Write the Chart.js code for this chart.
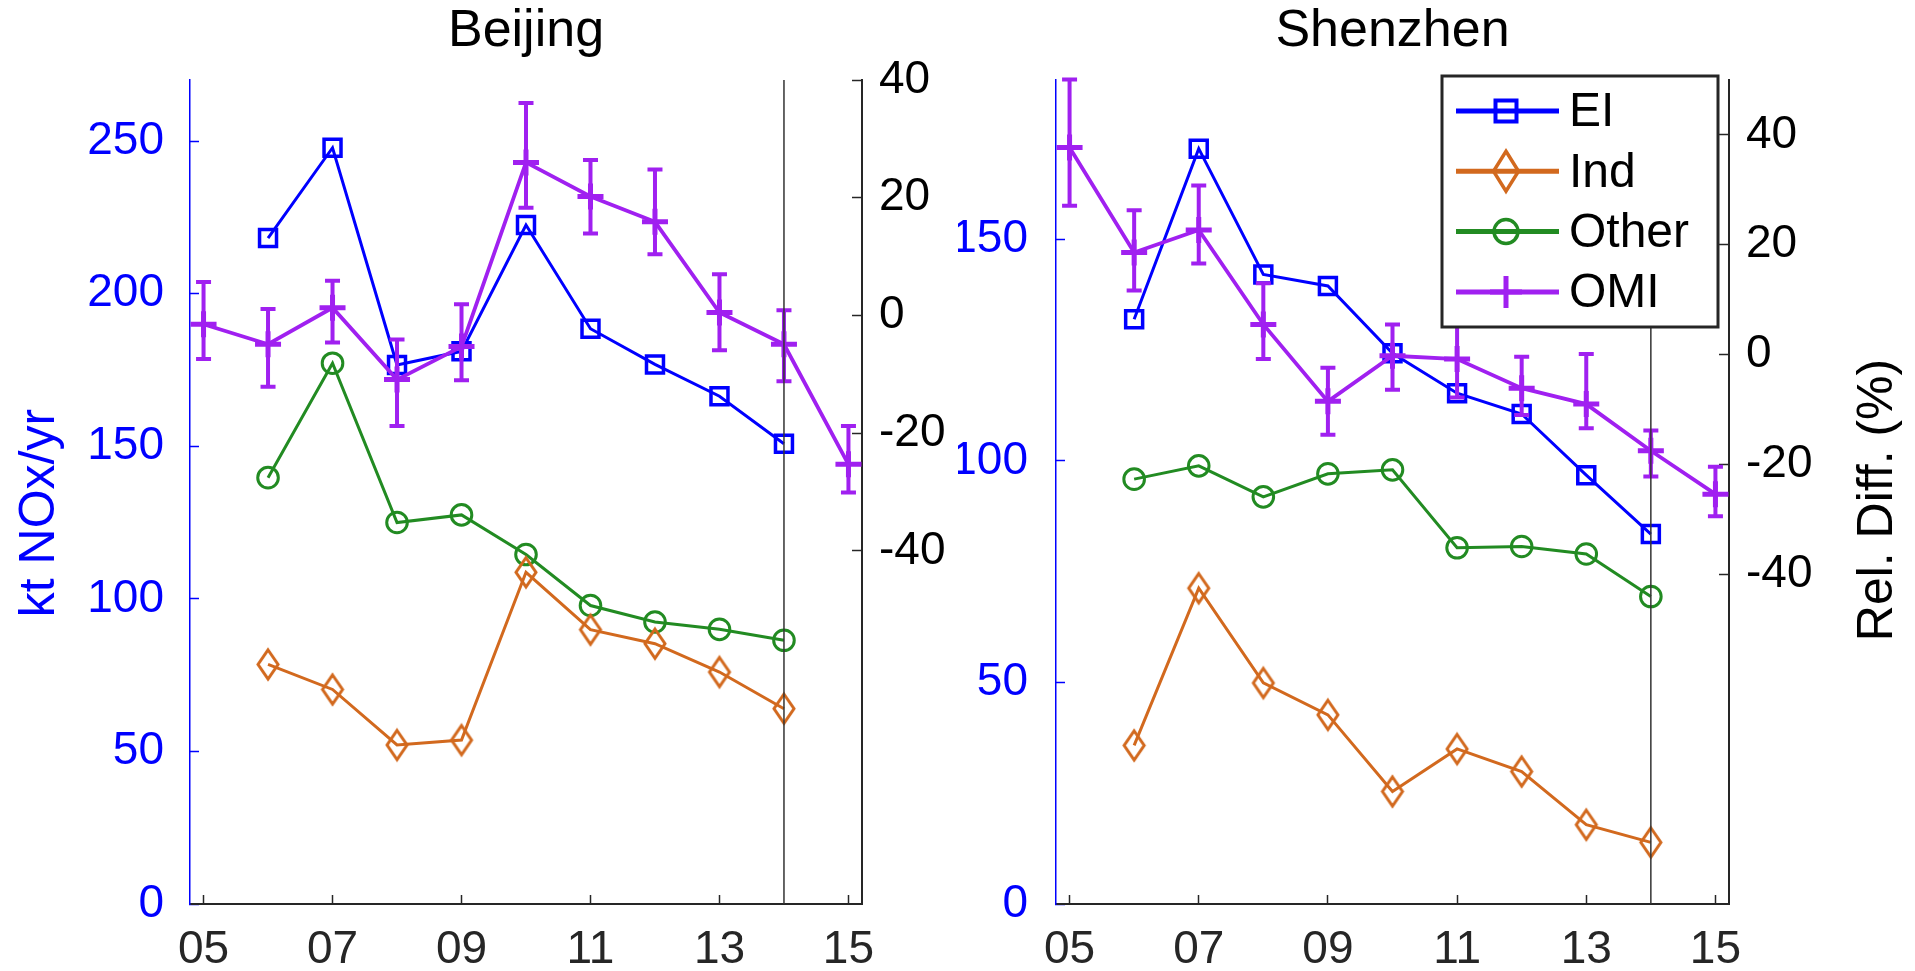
<!DOCTYPE html>
<html>
<head>
<meta charset="utf-8">
<script src="https://cdn.jsdelivr.net/npm/chart.js@4.4.0/dist/chart.umd.min.js"></script>
<style>
html,body{margin:0;padding:0;background:#fff;overflow:hidden;width:1915px;height:971px;}
#wrapA{position:absolute;left:0;top:0;width:958px;height:971px;}
#wrapB{position:absolute;left:958px;top:0;width:957px;height:971px;}
canvas{display:block;}
</style>
</head>
<body>
<div id="wrapA"><canvas id="cA" width="958" height="971" style="width:958px;height:971px"></canvas></div>
<div id="wrapB"><canvas id="cB" width="957" height="971" style="width:957px;height:971px"></canvas></div>
<script>
// ---------------- data ----------------
const inventoryYears = [2006, 2007, 2008, 2009, 2010, 2011, 2012, 2013, 2014];
const omiYears = [2005, 2006, 2007, 2008, 2009, 2010, 2011, 2012, 2013, 2014, 2015];
const xTickYears = [2005, 2007, 2009, 2011, 2013, 2015];
const xTickLabels = ['05', '07', '09', '11', '13', '15'];
const refLineYears = [2014];
const beijingLeftTicks = [0, 50, 100, 150, 200, 250];
const shenzhenLeftTicks = [0, 50, 100, 150];
const relDiffTicks = [-40, -20, 0, 20, 40];
const panelTitles = ['Beijing', 'Shenzhen'];
const axisTitles = ['kt NOx/yr', 'Rel. Diff. (%)'];
const seriesNames = ['EI', 'Ind', 'Other', 'OMI'];

// Beijing (kt NOx/yr) and OMI relative difference (%)
const beijingEI    = [218.2, 247.8, 176.6, 181.1, 222.5, 188.5, 176.8, 166.4, 150.8];
const beijingInd   = [78.5, 70.3, 52.1, 53.7, 108.7, 89.9, 85.3, 76.0, 64.0];
const beijingOther = [139.7, 177.2, 125.0, 127.5, 114.5, 97.8, 92.4, 90.0, 86.4];
const beijingOMI     = [-1.5, -4.9, 1.3, -10.9, -5.3, 26.0, 20.2, 15.9, 0.5, -4.9, -25.3];
const beijingOMIHigh = [5.7, 1.1, 5.9, -4.1, 1.9, 36.1, 26.4, 24.8, 7.0, 0.9, -18.8];
const beijingOMILow  = [-7.4, -12.1, -4.6, -18.8, -11.0, 18.3, 13.9, 10.4, -5.9, -11.2, -30.1];

// Shenzhen
const shenzhenEI    = [132.0, 170.5, 142.1, 139.5, 124.3, 115.3, 110.6, 96.8, 83.5];
const shenzhenInd   = [35.8, 71.3, 49.9, 42.7, 25.4, 35.0, 29.9, 17.9, 13.9];
const shenzhenOther = [95.9, 98.9, 91.9, 97.1, 98.0, 80.4, 80.7, 79.0, 69.4];
const shenzhenOMI     = [37.7, 18.6, 22.7, 5.5, -8.5, -0.2, -0.8, -6.1, -9.0, -17.5, -25.4];
const shenzhenOMIHigh = [50.1, 26.3, 30.8, 13.0, -2.4, 5.5, 6.2, -0.4, 0.1, -13.8, -20.4];
const shenzhenOMILow  = [27.1, 11.7, 16.6, -0.8, -14.6, -6.4, -7.8, -11.0, -13.4, -22.2, -29.4];

// axis ranges
const xRange = [2004.79, 2015.21];
const beijingLeftRange = [0, 270];
const shenzhenLeftRange = [0, 186];
const beijingRightRange = [-100, 40];
const shenzhenRightRange = [-100, 50];

// ---------------- style ----------------
const FONT = '"Liberation Sans", Arial, Helvetica, sans-serif';
const COLORS = { EI: '#0000ff', Ind: '#d2691e', Other: '#228b22', OMI: '#a020f0' };
const AXIS_DARK = '#262626';
const BLUE = '#0000ff';

function diamondImage(w, h, lw, color) {
  const c = document.createElement('canvas');
  c.width = Math.ceil(w + lw * 4);
  c.height = Math.ceil(h + lw * 4);
  const g = c.getContext('2d');
  const cx = c.width / 2, cy = c.height / 2;
  g.strokeStyle = color;
  g.lineWidth = lw;
  g.beginPath();
  g.moveTo(cx, cy - h / 2);
  g.lineTo(cx + w / 2, cy);
  g.lineTo(cx, cy + h / 2);
  g.lineTo(cx - w / 2, cy);
  g.closePath();
  g.stroke();
  return c;
}
const diamondMarker = diamondImage(20, 29, 3, COLORS.Ind);

function pts(xs, ys) { return xs.map((x, i) => ({ x: x, y: ys[i] })); }

function makeDatasets(ei, ind, other, omi, omiLow, omiHigh) {
  const common = { fill: false, tension: 0, clip: false, pointBackgroundColor: 'rgba(0,0,0,0)', pointHoverBackgroundColor: 'rgba(0,0,0,0)' };
  return [
    Object.assign({}, common, {
      label: seriesNames[0], data: pts(inventoryYears, ei), yAxisID: 'yL',
      borderColor: COLORS.EI, borderWidth: 3, pointStyle: 'rect', pointRadius: 12, pointHoverRadius: 12,
      pointBorderColor: COLORS.EI, pointBorderWidth: 3.5, pointHoverBorderWidth: 3.5, order: 1, legendMarker: 'square'
    }),
    Object.assign({}, common, {
      label: seriesNames[1], data: pts(inventoryYears, ind), yAxisID: 'yL',
      borderColor: COLORS.Ind, borderWidth: 3, pointStyle: diamondMarker, pointRadius: 12, pointHoverRadius: 12,
      pointBorderColor: COLORS.Ind, order: 2, legendMarker: 'diamond'
    }),
    Object.assign({}, common, {
      label: seriesNames[2], data: pts(inventoryYears, other), yAxisID: 'yL',
      borderColor: COLORS.Other, borderWidth: 3, pointStyle: 'circle', pointRadius: 10.3, pointHoverRadius: 10.3,
      pointBorderColor: COLORS.Other, pointBorderWidth: 3, pointHoverBorderWidth: 3, order: 3, legendMarker: 'circle'
    }),
    Object.assign({}, common, {
      label: seriesNames[3], data: pts(omiYears, omi), yAxisID: 'yR',
      borderColor: COLORS.OMI, borderWidth: 3.8, pointStyle: 'cross', pointRadius: 13, pointHoverRadius: 13,
      pointBorderColor: COLORS.OMI, pointBorderWidth: 5, pointHoverBorderWidth: 5, order: 0,
      errLow: omiLow, errHigh: omiHigh, legendMarker: 'plus'
    })
  ];
}

function makeScales(leftRange, leftTicks, rightRange, leftWidth, rightWidth, leftPad) {
  const tickFont = { family: FONT, size: 46 };
  return {
    x: {
      type: 'linear', position: 'bottom', min: xRange[0], max: xRange[1],
      afterBuildTicks: s => { s.ticks = xTickYears.map(v => ({ value: v })); },
      afterFit: s => { s.height = 67; },
      grid: { display: true, drawOnChartArea: false, drawTicks: true, tickLength: -9, tickWidth: 1.5, tickColor: AXIS_DARK },
      border: { display: true, color: AXIS_DARK, width: 2 },
      ticks: { autoSkip: false, maxRotation: 0, minRotation: 0, padding: 28, color: AXIS_DARK, font: tickFont,
        callback: (v, i) => xTickLabels[i] }
    },
    yL: {
      type: 'linear', position: 'left', min: leftRange[0], max: leftRange[1],
      afterBuildTicks: s => { s.ticks = leftTicks.map(v => ({ value: v })); },
      afterFit: s => { s.width = leftWidth; },
      grid: { display: true, drawOnChartArea: false, drawTicks: true, tickLength: -9, tickWidth: 1.5, tickColor: BLUE },
      border: { display: true, color: BLUE, width: 1.5 },
      ticks: { autoSkip: false, padding: leftPad, color: BLUE, font: tickFont }
    },
    yR: {
      type: 'linear', position: 'right', min: rightRange[0], max: rightRange[1],
      afterBuildTicks: s => { s.ticks = relDiffTicks.map(v => ({ value: v })); },
      afterFit: s => { s.width = rightWidth; },
      grid: { display: true, drawOnChartArea: false, drawTicks: true, tickLength: -10, tickWidth: 1.5, tickColor: AXIS_DARK },
      border: { display: true, color: AXIS_DARK, width: 2 },
      ticks: { autoSkip: false, padding: 27, color: '#000', font: tickFont }
    }
  };
}

// ---------------- plugins ----------------
const errorBarPlugin = {
  id: 'omiErrorBars',
  afterDatasetsDraw(chart) {
    const ctx = chart.ctx;
    const xs = chart.scales.x;
    chart.data.datasets.forEach(ds => {
      if (!ds.errLow) return;
      const ys = chart.scales[ds.yAxisID];
      ctx.save();
      ctx.strokeStyle = ds.borderColor;
      ctx.lineWidth = 4;
      ctx.lineCap = 'butt';
      ds.data.forEach((p, i) => {
        const x = xs.getPixelForValue(p.x);
        const y1 = ys.getPixelForValue(ds.errLow[i]);
        const y2 = ys.getPixelForValue(ds.errHigh[i]);
        ctx.beginPath();
        ctx.moveTo(x, y1); ctx.lineTo(x, y2);
        ctx.moveTo(x - 7.5, y1); ctx.lineTo(x + 7.5, y1);
        ctx.moveTo(x - 7.5, y2); ctx.lineTo(x + 7.5, y2);
        ctx.stroke();
      });
      ctx.restore();
    });
  }
};

const refLinePlugin = {
  id: 'refLine',
  afterDatasetsDraw(chart) {
    const ctx = chart.ctx, ca = chart.chartArea, xs = chart.scales.x;
    ctx.save();
    ctx.strokeStyle = '#333333';
    ctx.lineWidth = 1.5;
    refLineYears.forEach(yr => {
      const x = xs.getPixelForValue(yr);
      ctx.beginPath();
      ctx.moveTo(x, ca.top);
      ctx.lineTo(x, ca.bottom);
      ctx.stroke();
    });
    ctx.restore();
  }
};

const sideTitlePlugin = {
  id: 'sideTitles',
  afterDraw(chart, args, opts) {
    const ctx = chart.ctx, ca = chart.chartArea;
    (opts.items || []).forEach(it => {
      const x = it.side === 'left' ? ca.left + it.dx : ca.right + it.dx;
      const y = (ca.top + ca.bottom) / 2 + it.dy;
      ctx.save();
      ctx.translate(x, y);
      ctx.rotate(-Math.PI / 2);
      ctx.font = '50px ' + FONT;
      ctx.fillStyle = it.color;
      ctx.textAlign = 'center';
      ctx.textBaseline = 'middle';
      ctx.fillText(it.text, 0, 0);
      ctx.restore();
    });
  }
};

function drawLegendMarker(ctx, kind, x, y, color) {
  ctx.save();
  ctx.strokeStyle = color;
  ctx.beginPath();
  if (kind === 'square') {
    ctx.lineWidth = 4;
    ctx.rect(x - 10.5, y - 10.5, 21, 21);
  } else if (kind === 'diamond') {
    ctx.lineWidth = 3.5;
    ctx.moveTo(x, y - 20); ctx.lineTo(x + 12.5, y); ctx.lineTo(x, y + 20); ctx.lineTo(x - 12.5, y); ctx.closePath();
  } else if (kind === 'circle') {
    ctx.lineWidth = 3.5;
    ctx.arc(x, y, 12, 0, Math.PI * 2);
  } else if (kind === 'plus') {
    ctx.lineWidth = 5;
    ctx.moveTo(x - 16, y); ctx.lineTo(x + 16, y);
    ctx.moveTo(x, y - 16); ctx.lineTo(x, y + 16);
  }
  ctx.stroke();
  ctx.restore();
}

const boxLegendPlugin = {
  id: 'boxLegend',
  afterDraw(chart, args, opts) {
    if (!opts || !opts.show) return;
    const ctx = chart.ctx, ca = chart.chartArea;
    const w = 276, h = 251;
    const right = ca.right - 11, top = ca.top - 4, left = right - w;
    ctx.save();
    ctx.fillStyle = '#ffffff';
    ctx.fillRect(left, top, w, h);
    ctx.strokeStyle = AXIS_DARK;
    ctx.lineWidth = 3;
    ctx.strokeRect(left, top, w, h);
    chart.data.datasets.forEach((ds, i) => {
      const cy = top + 35 + i * 60.3;
      ctx.strokeStyle = ds.borderColor;
      ctx.lineWidth = 5;
      ctx.beginPath();
      ctx.moveTo(left + 14, cy);
      ctx.lineTo(left + 117, cy);
      ctx.stroke();
      drawLegendMarker(ctx, ds.legendMarker, left + 64, cy, ds.borderColor);
      ctx.fillStyle = '#000';
      ctx.font = '48px ' + FONT;
      ctx.textAlign = 'left';
      ctx.textBaseline = 'middle';
      ctx.fillText(ds.label, left + 127, cy + 2);
    });
    ctx.restore();
  }
};

function makeChart(canvasId, title, datasets, scales, sideItems, showLegend) {
  return new Chart(document.getElementById(canvasId), {
    type: 'line',
    data: { datasets: datasets },
    options: {
      responsive: false,
      animation: false,
      events: [],
      layout: { padding: 0 },
      scales: scales,
      plugins: {
        legend: { display: false },
        tooltip: { enabled: false },
        title: {
          display: true, text: title, fullSize: false, color: '#000',
          font: { family: FONT, size: 52, weight: 'normal', lineHeight: 1.2 },
          padding: { top: 0, bottom: 17.6 }
        },
        sideTitles: { items: sideItems },
        boxLegend: { show: showLegend }
      }
    },
    plugins: [errorBarPlugin, refLinePlugin, sideTitlePlugin, boxLegendPlugin]
  });
}

makeChart('cA', panelTitles[0],
  makeDatasets(beijingEI, beijingInd, beijingOther, beijingOMI, beijingOMILow, beijingOMIHigh),
  makeScales(beijingLeftRange, beijingLeftTicks, beijingRightRange, 190, 96, 35),
  [{ text: axisTitles[0], side: 'left', dx: -150, dy: 21, color: BLUE }],
  false);

makeChart('cB', panelTitles[1],
  makeDatasets(shenzhenEI, shenzhenInd, shenzhenOther, shenzhenOMI, shenzhenOMILow, shenzhenOMIHigh),
  makeScales(shenzhenLeftRange, shenzhenLeftTicks, shenzhenRightRange, 98, 186, 37),
  [{ text: axisTitles[1], side: 'right', dx: 149, dy: 8, color: '#000' }],
  true);
</script>
</body>
</html>
